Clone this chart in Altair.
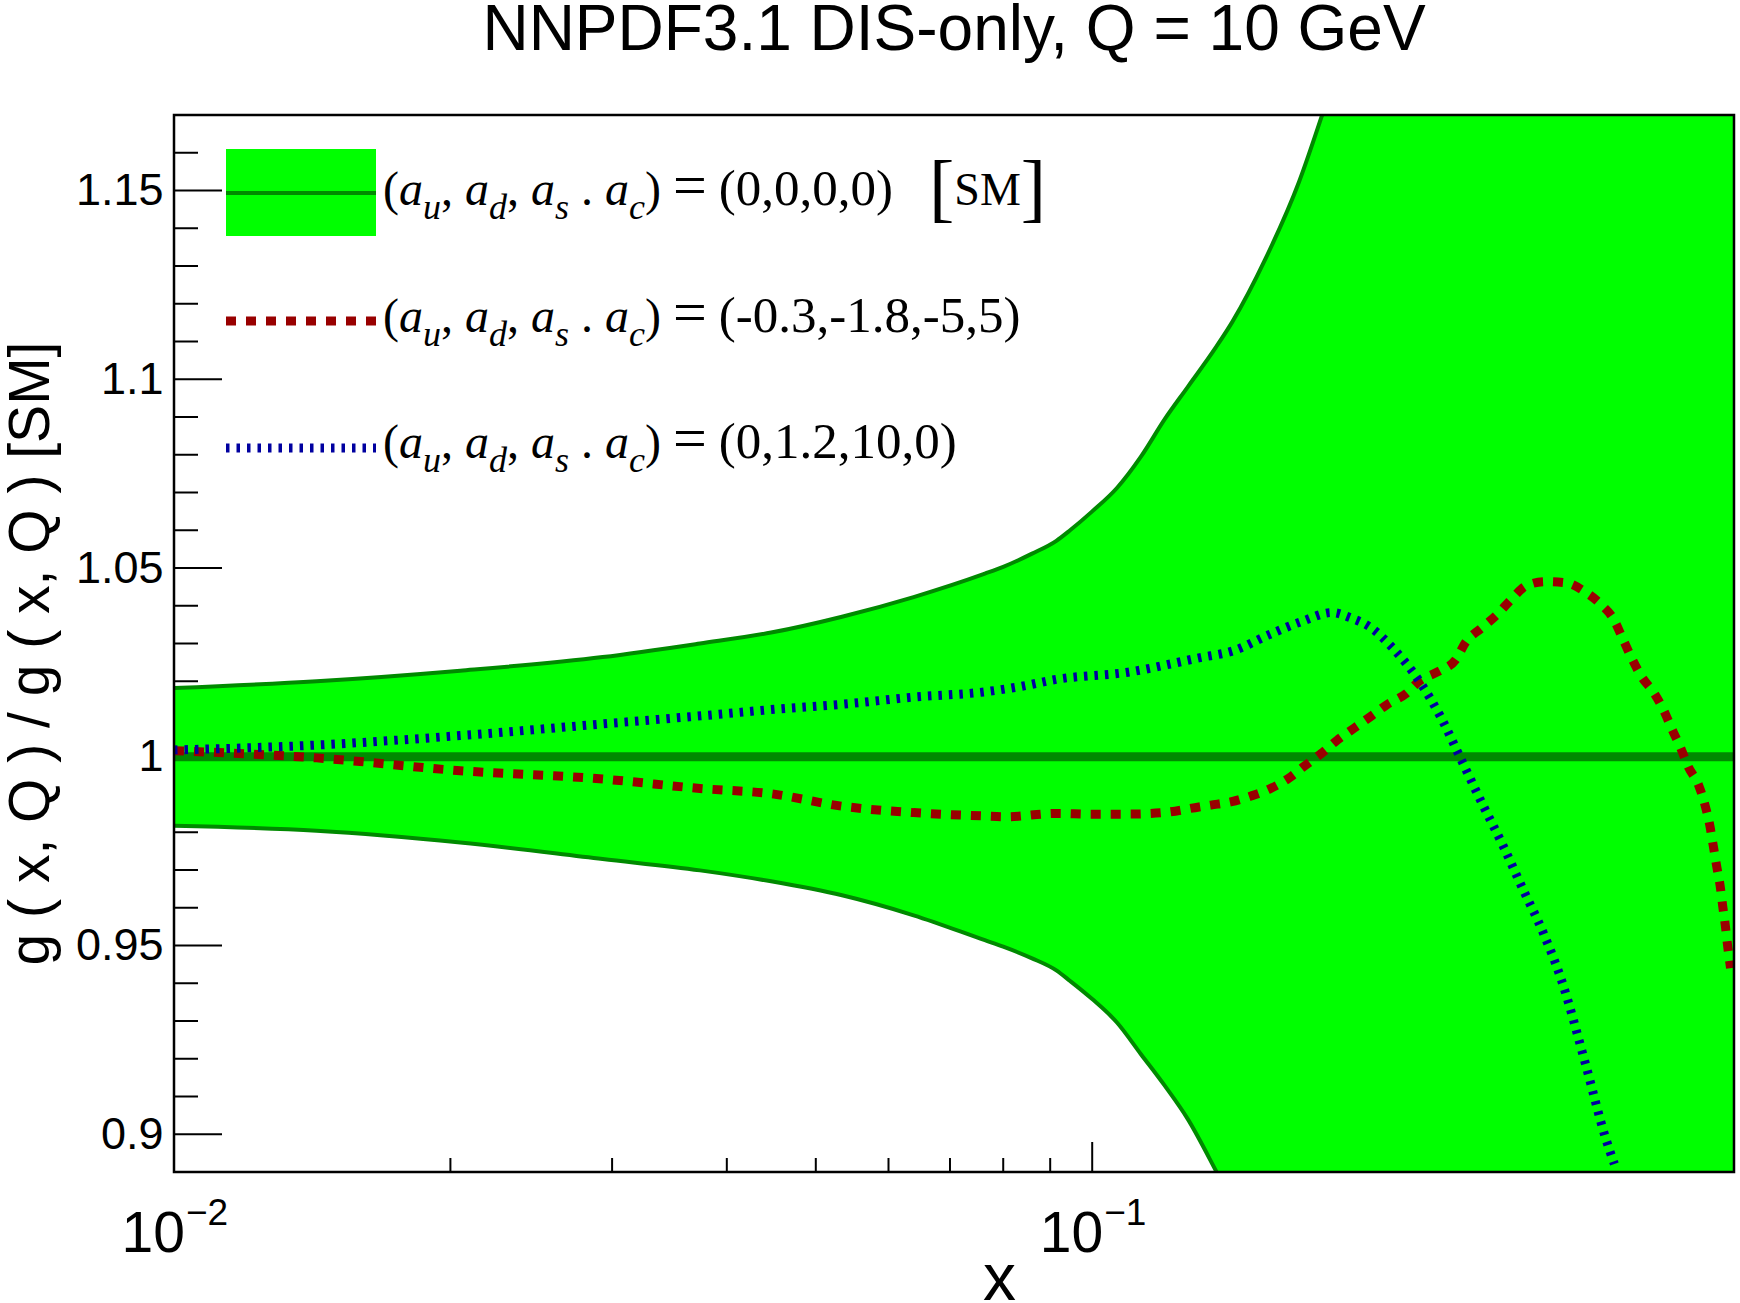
import altair as alt
import pandas as pd

# ------------------------------------------------------------------
# Values
# ------------------------------------------------------------------
title_text = "NNPDF3.1 DIS-only, Q = 10 GeV"
y_title = "g ( x, Q ) / g ( x, Q ) [SM]"
x_title = "x"

# SM uncertainty band (upper / lower edge) on a common x grid
band_x = [0.0100, 0.0143, 0.0205, 0.0293, 0.0374, 0.0447, 0.0534, 0.0639, 0.0764,
          0.0800, 0.0860, 0.0914, 0.0946, 0.1000, 0.1064, 0.1130, 0.1200, 0.1271,
          0.1364, 0.1421, 0.1545, 0.1680, 0.1780, 0.2000, 0.2500, 0.3000, 0.4000, 0.5000]
band_hi = [1.0182, 1.0200, 1.0228, 1.0264, 1.0300, 1.0329, 1.0371, 1.0423, 1.0485,
           1.0503, 1.0538, 1.0572, 1.0600, 1.0650, 1.0712, 1.0795, 1.0895, 1.0980,
           1.1085, 1.1152, 1.1320, 1.1523, 1.1700, 1.2100, 1.3200, 1.4300, 1.6500, 1.9000]
band_lo = [0.9817, 0.9804, 0.9773, 0.9729, 0.9699, 0.9670, 0.9633, 0.9580, 0.9514,
           0.9497, 0.9466, 0.9434, 0.9406, 0.9358, 0.9296, 0.9212, 0.9128, 0.9040,
           0.8903, 0.8820, 0.8640, 0.8450, 0.8300, 0.8000, 0.7300, 0.6600, 0.5500, 0.4500]

# SM central value
sm_x = [0.01, 0.5]
sm_y = [1.0, 1.0]

# (a_u, a_d, a_s, a_c) = (-0.3, -1.8, -5, 5)
red_x = [0.0100, 0.0143, 0.0205, 0.0293, 0.0374, 0.0447, 0.0534, 0.0639, 0.0764, 0.0806,
         0.0914, 0.1000, 0.1094, 0.1195, 0.1307, 0.1347, 0.1419, 0.1489, 0.1561, 0.1637,
         0.1702, 0.1777, 0.1847, 0.1929, 0.2014, 0.2094, 0.2196, 0.2273, 0.2383, 0.2488,
         0.2553, 0.2655, 0.2761, 0.2858, 0.2971, 0.3114, 0.3280, 0.3440, 0.3576, 0.3702,
         0.3782, 0.3865, 0.3966, 0.4089, 0.4190, 0.4278, 0.4375, 0.4459, 0.4575, 0.4647,
         0.4704, 0.4746, 0.4786, 0.4828, 0.4860, 0.4894, 0.4923, 0.4957]
red_y = [1.0016, 0.9997, 0.9963, 0.9941, 0.9916, 0.9902, 0.9869, 0.9852, 0.9843, 0.9841,
         0.9850, 0.9848, 0.9848, 0.9852, 0.9867, 0.9872, 0.9881, 0.9896, 0.9915, 0.9943,
         0.9975, 1.0009, 1.0043, 1.0076, 1.0108, 1.0138, 1.0167, 1.0201, 1.0226, 1.0257,
         1.0304, 1.0341, 1.0377, 1.0416, 1.0453, 1.0464, 1.0461, 1.0437, 1.0405, 1.0362,
         1.0313, 1.0263, 1.0212, 1.0170, 1.0124, 1.0074, 1.0023, 0.9973, 0.9925, 0.9874,
         0.9820, 0.9765, 0.9712, 0.9660, 0.9605, 0.9550, 0.9495, 0.9440]

# (a_u, a_d, a_s, a_c) = (0, 1.2, 10, 0)
blue_x = [0.0100, 0.0143, 0.0205, 0.0293, 0.0390, 0.0447, 0.0534, 0.0639, 0.0764, 0.0835,
          0.0914, 0.1094, 0.1307, 0.1426, 0.1554, 0.1694, 0.1824, 0.1912, 0.2014, 0.2121,
          0.2273, 0.2393, 0.2522, 0.2655, 0.2796, 0.2944, 0.3101, 0.3239, 0.3450, 0.3617,
          0.3704]
blue_y = [1.0018, 1.0031, 1.0056, 1.0087, 1.0112, 1.0125, 1.0139, 1.0158, 1.0172, 1.0186,
          1.0205, 1.0224, 1.0262, 1.0281, 1.0322, 1.0359, 1.0382, 1.0368, 1.0341, 1.0290,
          1.0199, 1.0108, 0.9993, 0.9879, 0.9769, 0.9650, 0.9532, 0.9413, 0.9181, 0.8996,
          0.8921]

# Axis ticks and labels
y_major = [0.9, 0.95, 1.0, 1.05, 1.1, 1.15]
y_minor = [0.91, 0.92, 0.93, 0.94, 0.96, 0.97, 0.98, 0.99, 1.01, 1.02, 1.03, 1.04,
           1.06, 1.07, 1.08, 1.09, 1.11, 1.12, 1.13, 1.14, 1.16]
x_major = [0.01, 0.1]
x_minor = [0.02, 0.03, 0.04, 0.05, 0.06, 0.07, 0.08, 0.09, 0.2, 0.3, 0.4]
x_label_base = ["10", "10"]
x_label_exp = ["\u22122", "\u22121"]

# Legend entries
legend_params = ["(0,0,0,0)", "(-0.3,-1.8,-5,5)", "(0,1.2,10,0)"]
legend_tag = ["SM", "", ""]

# ------------------------------------------------------------------
# Layout / style
# ------------------------------------------------------------------
W, H = 1560, 1057
GREEN = "#00ff00"
DGREEN = "#008a00"
RED = "#990000"
BLUE = "#0000a0"
SANS = "Liberation Sans"
SERIF = "Liberation Serif"

xs = alt.Scale(type="log", domain=[0.01, 0.5], nice=False)
ys = alt.Scale(domain=[0.89, 1.17], nice=False, zero=False)

band_df = pd.DataFrame({"x": band_x, "hi": band_hi, "lo": band_lo})
sm_df = pd.DataFrame({"x": sm_x, "y": sm_y})
red_df = pd.DataFrame({"x": red_x, "y": red_y})
blue_df = pd.DataFrame({"x": blue_x, "y": blue_y})
one = alt.Data(values=[{}])

YA = alt.Axis(values=y_major, format=".3~f", labelFont=SANS, labelFontSize=45,
              labelColor="black", labelPadding=11, ticks=False, domain=False,
              grid=False, labelOverlap=False, title=y_title, titleFont=SANS,
              titleFontSize=57, titleFontWeight="normal", titleColor="black",
              titleAngle=270, titleX=-126, titleY=538, titleAlign="center",
              titleBaseline="alphabetic", zindex=0)
XA = alt.Axis(labels=False, ticks=False, domain=False, grid=False, title=x_title,
              titleFont=SANS, titleFontSize=66, titleFontWeight="normal",
              titleColor="black", titleX=825, titleY=127, titleAlign="center",
              titleBaseline="alphabetic", zindex=0)


def X(field):
    return alt.X(field, scale=xs, axis=XA)


def Y(field):
    return alt.Y(field, scale=ys, axis=YA)


# tick marks drawn inside the frame (underneath the band)
yt_major = alt.Chart(pd.DataFrame({"v": y_major})).mark_rule(color="black", strokeWidth=2).encode(
    y=Y("v:Q"), x=alt.value(0), x2=alt.value(48))
yt_minor = alt.Chart(pd.DataFrame({"v": y_minor})).mark_rule(color="black", strokeWidth=2).encode(
    y=Y("v:Q"), x=alt.value(0), x2=alt.value(24))
xt_major = alt.Chart(pd.DataFrame({"v": x_major})).mark_rule(color="black", strokeWidth=2).encode(
    x=X("v:Q"), y=alt.value(H), y2=alt.value(H - 30))
xt_minor = alt.Chart(pd.DataFrame({"v": x_minor})).mark_rule(color="black", strokeWidth=2).encode(
    x=X("v:Q"), y=alt.value(H), y2=alt.value(H - 14))

band = alt.Chart(band_df).mark_area(color=GREEN, opacity=1, clip=True, interpolate="monotone").encode(
    x=X("x:Q"), y=Y("hi:Q"), y2="lo:Q")
band_hi_line = alt.Chart(band_df).mark_line(color=DGREEN, strokeWidth=4, clip=True,
                                           interpolate="monotone").encode(
    x=X("x:Q"), y=Y("hi:Q"))
band_lo_line = alt.Chart(band_df).mark_line(color=DGREEN, strokeWidth=4, clip=True,
                                           interpolate="monotone").encode(
    x=X("x:Q"), y=Y("lo:Q"))
sm_line = alt.Chart(sm_df).mark_line(color=DGREEN, strokeWidth=9, clip=True).encode(
    x=X("x:Q"), y=Y("y:Q"))
red_line = alt.Chart(red_df).mark_line(color=RED, strokeWidth=9, strokeDash=[10, 10],
                                       clip=True, interpolate="monotone").encode(
    x=X("x:Q"), y=Y("y:Q"))
blue_line = alt.Chart(blue_df).mark_line(color=BLUE, strokeWidth=9, strokeDash=[3.5, 7],
                                         clip=True, interpolate="monotone").encode(
    x=X("x:Q"), y=Y("y:Q"))

# x tick labels written as 10 with a raised exponent
xl_df = pd.DataFrame({"v": x_major, "base": x_label_base, "exp": x_label_exp})
xl_base = alt.Chart(xl_df).mark_text(align="right", baseline="alphabetic", dx=11,
                                     font=SANS, fontSize=57, color="black").encode(
    x=X("v:Q"), y=alt.value(H + 80), text="base:N")
xl_exp = alt.Chart(xl_df).mark_text(align="left", baseline="alphabetic", dx=12,
                                    font=SANS, fontSize=37, color="black").encode(
    x=X("v:Q"), y=alt.value(H + 53), text="exp:N")

# chart title
title = alt.Chart(one).mark_text(align="center", baseline="alphabetic", font=SANS,
                                 fontSize=64, color="black").encode(
    x=alt.value(W / 2), y=alt.value(-65), text=alt.value(title_text))

# frame
frame = alt.Chart(one).mark_rect(fill="transparent", stroke="black", strokeWidth=2.5).encode(
    x=alt.value(0), x2=alt.value(W), y=alt.value(0), y2=alt.value(H))

# ------------------------------------------------------------------
# Legend
# ------------------------------------------------------------------
LX0, LX1 = 52, 202
row_base = [90, 217, 343]
leg_box = alt.Chart(one).mark_rect(color=GREEN).encode(
    x=alt.value(LX0), x2=alt.value(LX1), y=alt.value(34), y2=alt.value(121))
leg_box_line = alt.Chart(one).mark_rule(color=DGREEN, strokeWidth=4).encode(
    x=alt.value(LX0), x2=alt.value(LX1), y=alt.value(78))
leg_red = alt.Chart(one).mark_rule(color=RED, strokeWidth=9, strokeDash=[10, 10]).encode(
    x=alt.value(LX0), x2=alt.value(LX1), y=alt.value(206))
leg_blue = alt.Chart(one).mark_rule(color=BLUE, strokeWidth=9, strokeDash=[3.5, 7]).encode(
    x=alt.value(LX0), x2=alt.value(LX1), y=alt.value(333))

# approximate Times advance widths (em units) to place the text pieces
UPW = {"(": .333, ")": .333, ",": .25, " ": .25, ".": .25, "-": .333, "[": .333,
       "]": .333, "S": .556, "M": .889, "=": .564}
for d in "0123456789":
    UPW[d] = .5
ITW = {"a": .5, "u": .5, "d": .5, "s": .389, "c": .444}
KIND = {  # size, italic, baseline shift
    "up": (48, False, 0), "par": (51, False, 0), "it": (48, True, 0),
    "sub": (36, True, 14), "eq": (60, False, 0), "br": (76, False, 8), "tag": (46, False, 0)}


def adv(text, kind):
    size, italic, _ = KIND[kind]
    tab = ITW if italic else UPW
    return sum(tab.get(c, .5) for c in text) * size


pieces = []
for r, (params, tag) in enumerate(zip(legend_params, legend_tag)):
    seq = [("(", "up"), ("a", "it"), ("u", "sub"), (", ", "up"), ("a", "it"), ("d", "sub"),
           (", ", "up"), ("a", "it"), ("s", "sub"), (" . ", "up"), ("a", "it"), ("c", "sub"),
           (") ", "up"), ("=", "eq"), (" ", "up"), (params, "par")]
    if tag:
        seq += [("   ", "up"), ("[", "br"), (tag, "tag"), ("]", "br")]
    px = 209
    for text, kind in seq:
        core = text.strip()
        if core:
            lead = adv(text[:len(text) - len(text.lstrip())], kind)
            pieces.append({"text": core, "kind": kind, "px": px + lead,
                           "py": row_base[r] + KIND[kind][2]})
        px += adv(text, kind)
pieces_df = pd.DataFrame(pieces)

leg_text = []
for kind, (size, italic, _) in KIND.items():
    sub = pieces_df[pieces_df["kind"] == kind]
    if sub.empty:
        continue
    leg_text.append(alt.Chart(sub).mark_text(
        align="left", baseline="alphabetic", font=SERIF, fontSize=size,
        fontStyle="italic" if italic else "normal", color="black").encode(
        x=alt.X("px:Q", scale=None, axis=None), y=alt.Y("py:Q", scale=None, axis=None),
        text="text:N"))

chart = alt.layer(
    yt_major, yt_minor, xt_major, xt_minor,
    band, band_hi_line, band_lo_line, sm_line, red_line, blue_line,
    xl_base, xl_exp, title,
    leg_box, leg_box_line, leg_red, leg_blue, *leg_text,
    frame,
).properties(
    width=W, height=H,
    autosize=alt.AutoSizeParams(type="none"),
    padding={"left": 174, "top": 115, "right": 6, "bottom": 131},
).configure_view(stroke=None).configure(background="white")

chart.save("out.html", embed_options={"renderer": "svg", "actions": False})
